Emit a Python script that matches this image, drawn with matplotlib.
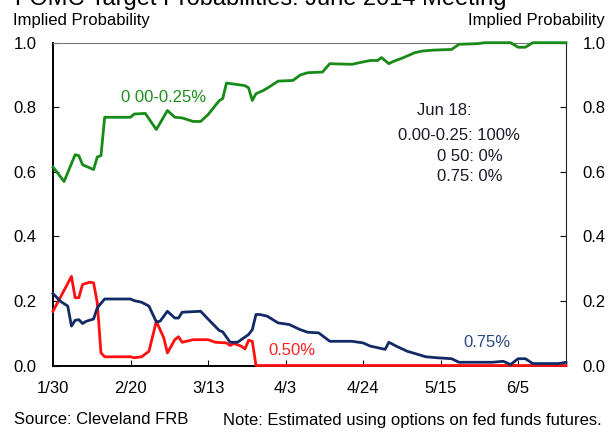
import matplotlib
matplotlib.use("Agg")
import matplotlib.pyplot as plt
import matplotlib.dates as mdates
import pandas as pd

plt.rcParams['font.family'] = ['Liberation Sans', 'DejaVu Sans']
plt.rcParams['font.size'] = 12

# Implied probabilities for the June 18, 2014 FOMC meeting
green_dates = ['01-30', '02-02', '02-05', '02-06', '02-07', '02-10', '02-11', '02-12',
               '02-13', '02-20', '02-21', '02-24', '02-27', '03-02', '03-04', '03-06',
               '03-09', '03-11', '03-13', '03-16', '03-17', '03-18', '03-23', '03-24',
               '03-25', '03-26', '03-28', '03-30', '04-01', '04-05', '04-07', '04-09',
               '04-13', '04-15', '04-21', '04-23', '04-26', '04-28', '04-29', '05-01',
               '05-02', '05-05', '05-08', '05-10', '05-13', '05-18', '05-20', '05-25',
               '05-27', '06-01', '06-03', '06-05', '06-07', '06-09', '06-18']
green_vals = [0.615, 0.57, 0.653, 0.65, 0.622, 0.607, 0.646, 0.65,
              0.769, 0.769, 0.779, 0.781, 0.731, 0.79, 0.769, 0.767,
              0.756, 0.756, 0.777, 0.82, 0.827, 0.875, 0.867, 0.86,
              0.821, 0.842, 0.852, 0.866, 0.881, 0.883, 0.90, 0.907,
              0.909, 0.935, 0.933, 0.938, 0.945, 0.945, 0.954, 0.935,
              0.941, 0.954, 0.969, 0.974, 0.977, 0.979, 0.995, 0.997,
              1.0, 1.0, 1.0, 0.986, 0.986, 1.0, 1.0]

red_dates = ['01-30', '02-04', '02-05', '02-06', '02-07', '02-09', '02-10', '02-11',
             '02-12', '02-13', '02-20', '02-21', '02-23', '02-25', '02-27', '03-01',
             '03-02', '03-04', '03-05', '03-06', '03-09', '03-13', '03-15', '03-18',
             '03-19', '03-20', '03-22', '03-23', '03-24', '03-25', '03-26', '06-18']
red_vals = [0.168, 0.276, 0.21, 0.21, 0.251, 0.258, 0.256, 0.194,
            0.039, 0.027, 0.027, 0.024, 0.027, 0.044, 0.137, 0.086,
            0.039, 0.08, 0.089, 0.072, 0.08, 0.08, 0.072, 0.07,
            0.062, 0.068, 0.06, 0.051, 0.078, 0.075, 0.0, 0.0]

navy_dates = ['01-30', '02-01', '02-03', '02-04', '02-05', '02-06', '02-07', '02-08',
              '02-10', '02-11', '02-13', '02-20', '02-21', '02-23', '02-25', '02-27',
              '02-28', '03-02', '03-04', '03-05', '03-06', '03-11', '03-13', '03-16',
              '03-17', '03-19', '03-21', '03-23', '03-24', '03-25', '03-26', '03-27',
              '03-29', '04-01', '04-04', '04-07', '04-09', '04-12', '04-15', '04-21',
              '04-24', '04-26', '04-28', '04-30', '05-01', '05-03', '05-06', '05-09',
              '05-11', '05-14', '05-18', '05-20', '05-29', '06-01', '06-03', '06-05',
              '06-07', '06-09', '06-16', '06-18']
navy_vals = [0.223, 0.199, 0.184, 0.122, 0.14, 0.142, 0.13, 0.137,
             0.144, 0.179, 0.206, 0.206, 0.201, 0.196, 0.184, 0.135,
             0.137, 0.168, 0.147, 0.147, 0.165, 0.168, 0.144, 0.109,
             0.104, 0.072, 0.072, 0.088, 0.096, 0.111, 0.158, 0.158,
             0.153, 0.132, 0.127, 0.111, 0.103, 0.101, 0.075, 0.075,
             0.07, 0.06, 0.055, 0.05, 0.072, 0.06, 0.044, 0.034,
             0.027, 0.024, 0.021, 0.01, 0.01, 0.013, 0.003, 0.021,
             0.021, 0.006, 0.006, 0.01]

tick_labels = ['1/30', '2/20', '3/13', '4/3', '4/24', '5/15', '6/5']
tick_dates = ['01-30', '02-20', '03-13', '04-03', '04-24', '05-15', '06-05']
y_ticks = [0.0, 0.2, 0.4, 0.6, 0.8, 1.0]


def to_dates(days):
    return pd.to_datetime(['2014-' + d for d in days])


fig = plt.figure(figsize=(6.08, 4.32), dpi=100)
ax = fig.add_axes([53 / 608, 1 - 365.5 / 432, 513 / 608, 322.8 / 432])

ax.plot(to_dates(green_dates), green_vals, color='#178a17', lw=2.0, clip_on=False, zorder=3)
ax.plot(to_dates(red_dates), red_vals, color='#ff1010', lw=2.0, clip_on=False, zorder=3)
ax.plot(to_dates(navy_dates), navy_vals, color='#112a66', lw=2.0, clip_on=False, zorder=4)

ax.set_xlim(pd.Timestamp('2014-01-30'), pd.Timestamp('2014-06-18'))
ax.set_ylim(0, 1)
ax.set_xticks(to_dates(tick_dates))
ax.set_xticklabels(tick_labels)
ax.set_yticks(y_ticks)
ax.set_yticklabels([f'{v:.1f}' for v in y_ticks])

ax.tick_params(axis='x', direction='in', length=4, pad=11, labelsize=12)
ax.tick_params(axis='y', direction='in', length=4, pad=12, labelsize=12,
               right=True, labelright=True)
for side in ['left', 'bottom']:
    ax.spines[side].set_linewidth(1.4)
    ax.spines[side].set_color('black')
ax.spines['top'].set_color('#777777')
ax.spines['right'].set_color('#222222')

# series labels
ax.text(0.132, 0.83, '0 00-0.25%', color='#1b8f1b', transform=ax.transAxes, va='center')
ax.text(0.419, 0.048, '0.50%', color='#ff2020', transform=ax.transAxes, va='center')
ax.text(0.799, 0.071, '0.75%', color='#2a4a85', transform=ax.transAxes, va='center')

# latest readings
ax.text(0.709, 0.789, 'Jun 18:', color='#1a1a2a', transform=ax.transAxes, va='center')
ax.text(0.6725, 0.714, '0.00-0.25: 100%', color='#1a1a2a', transform=ax.transAxes, va='center')
ax.text(0.7485, 0.647, '0 50: 0%', color='#1a1a2a', transform=ax.transAxes, va='center')
ax.text(0.7485, 0.585, '0.75: 0%', color='#1a1a2a', transform=ax.transAxes, va='center')

# title (cut off at the top) and axis headers
fig.text(15 / 608, 1 - 4.5 / 432, 'FOMC Target Probabilities: June 2014 Meeting',
         fontsize=17, va='baseline', ha='left')
fig.text(13 / 608, 1 - 20 / 432, 'Implied Probability', va='center', ha='left')
fig.text(605 / 608, 1 - 20 / 432, 'Implied Probability', va='center', ha='right')

fig.text(14 / 608, 1 - 420 / 432, 'Source: Cleveland FRB', va='center', ha='left')
fig.text(223 / 608, 1 - 420 / 432, 'Note: Estimated using options on fed funds futures.',
         va='center', ha='left')

fig.savefig('out.png', dpi=100)
